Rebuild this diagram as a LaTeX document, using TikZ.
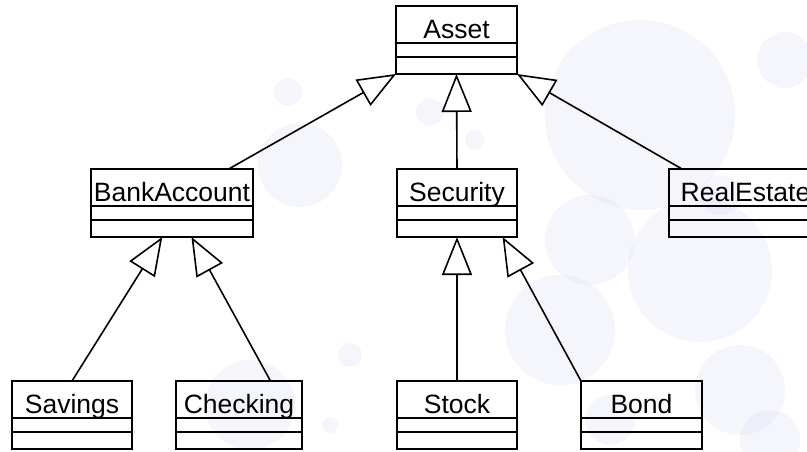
\documentclass[tikz,border=0pt]{standalone}
\usepackage{fontspec}
\setmainfont{Liberation Sans}
\usetikzlibrary{positioning,calc,arrows.meta}
\definecolor{bubble}{RGB}{226,226,246}
\tikzset{
  class box/.style={draw,line width=1.6pt,inner sep=0pt,outer sep=0pt},
  class name/.style={class box,anchor=north west,minimum height=37pt,
    text height=27pt,text depth=0pt,font=\fontsize{26.5}{30}\selectfont},
  inherit/.style={line width=1.6pt,-{Triangle[open,length=38pt,width=30pt]}},
}
% name, left, top, width, text
\newcommand{\umlclass}[5]{%
  \node[class name,minimum width=#4pt] (#1) at (#2,#3) {#5};
  \node[class box,minimum width=#4pt,minimum height=14pt,below=0pt of #1] (#1-a) {};
  \node[class box,minimum width=#4pt,minimum height=17pt,below=0pt of #1-a] (#1-o) {};
}

\begin{document}
\begin{tikzpicture}[x=1pt,y=-1pt]
\useasboundingbox (0,0) rectangle (807,451);
% background bubbles
\foreach \bx/\by/\br in {640/115/95, 300/165/42, 288/92/14, 430/112/14,
  475/140/10, 590/240/45, 700/270/72, 560/330/55, 740/390/45, 785/60/28,
  250/405/45, 350/355/12, 330/425/8, 770/440/30, 720/195/20, 610/420/25}
{
  \fill[bubble,fill opacity=0.35] (\bx,\by) circle[radius=\br pt];
}
\umlclass{asset}{396}{6}{121}{Asset}
\umlclass{bank}{91}{169}{162}{BankAccount}
\umlclass{security}{397}{169}{120}{Security}
\umlclass{realestate}{669}{169}{153}{RealEstate}
\umlclass{savings}{12}{381}{120}{Savings}
\umlclass{checking}{176}{381}{126}{Checking}
\umlclass{stock}{397}{381}{120}{Stock}
\umlclass{bond}{581}{381}{121}{Bond}
% generalisations
\draw[inherit] ($(bank.north west)!0.85!(bank.north east)$) -- (asset-o.south west);
\draw[inherit] (security.north) -- (asset-o.south);
\draw[inherit] ($(realestate.north west)!0.085!(realestate.north east)$) -- (asset-o.south east);
\draw[inherit] (savings.north) -- ($(bank-o.south west)!0.44!(bank-o.south east)$);
\draw[inherit] ($(checking.north west)!0.75!(checking.north east)$) -- ($(bank-o.south west)!0.62!(bank-o.south east)$);
\draw[inherit] (stock.north) -- (security-o.south);
\draw[inherit] (bond.north west) -- ($(security-o.south west)!0.88!(security-o.south east)$);
\end{tikzpicture}
\end{document}
